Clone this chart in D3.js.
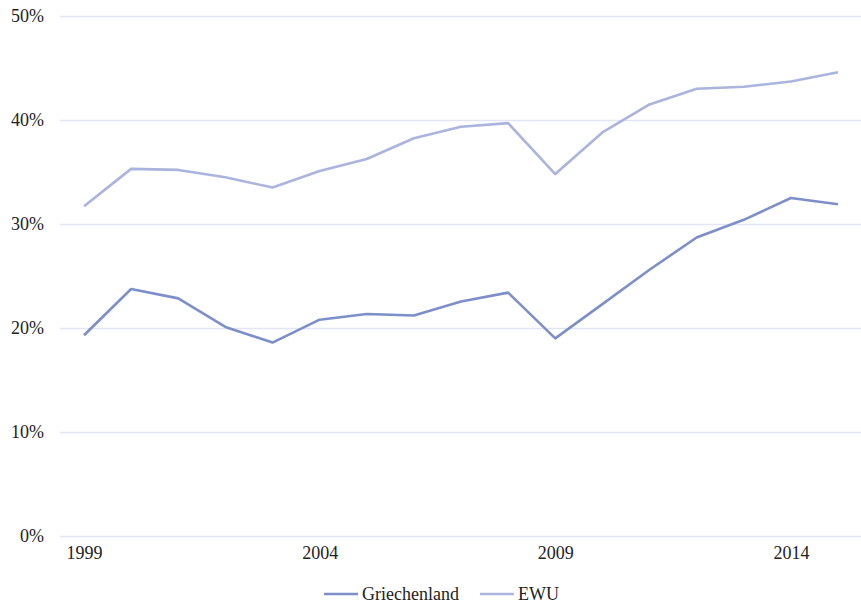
<!DOCTYPE html>
<html>
<head>
<meta charset="utf-8">
<script src="https://cdn.jsdelivr.net/npm/d3@7"></script>
<style>
  html, body { margin: 0; padding: 0; background: #fff; }
  svg { display: block; }
  text { font-family: "Liberation Serif", "Times New Roman", serif; fill: #222; }
</style>
</head>
<body>
<svg id="chart" width="861" height="605"></svg>
<script>
// Years and shares (percent)
const years = [1999, 2000, 2001, 2002, 2003, 2004, 2005, 2006, 2007, 2008,
               2009, 2010, 2011, 2012, 2013, 2014, 2015];
const griechenland = [19.3, 23.75, 22.85, 20.1, 18.6, 20.8, 21.35, 21.2, 22.55, 23.4,
                      19.0, 22.3, 25.6, 28.7, 30.4, 32.5, 31.9];
const ewu = [31.7, 35.3, 35.2, 34.5, 33.5, 35.1, 36.25, 38.25, 39.35, 39.7,
             34.8, 38.8, 41.5, 43.0, 43.2, 43.7, 44.6];
const yTicks = [0, 10, 20, 30, 40, 50];
const xTicks = [1999, 2004, 2009, 2014];
const seriesNames = ["Griechenland", "EWU"];
const seriesColors = ["#7d8fc9", "#aab4dc"];

const FONT = "'Liberation Serif', 'Times New Roman', serif";
const FONT_SIZE = "18px";

const svg = d3.select("#chart");
const gridLeft = 60, gridRight = 861;

const x = d3.scaleLinear().domain([1999, 2015]).range([84, 838]);
const y = d3.scaleLinear().domain([0, 50]).range([536, 16]);

// Horizontal grid lines with percent labels
const yAxis = d3.axisLeft(y)
  .tickValues(yTicks)
  .tickSize(-(gridRight - gridLeft))
  .tickPadding(16)
  .tickFormat(d => d + "%");

const gy = svg.append("g")
  .attr("transform", `translate(${gridLeft},0)`)
  .call(yAxis);
gy.select(".domain").remove();
gy.selectAll(".tick line").attr("stroke", "#e2e5f3").attr("stroke-width", 1.5);
gy.selectAll(".tick text")
  .attr("x", -16)
  .style("font-size", FONT_SIZE)
  .style("font-family", FONT)
  .attr("fill", "#222");

// Year labels
const xAxis = d3.axisBottom(x).tickValues(xTicks).tickSize(0).tickPadding(10).tickFormat(d3.format("d"));
const gx = svg.append("g").attr("transform", "translate(0,536)").call(xAxis);
gx.select(".domain").remove();
gx.selectAll(".tick text")
  .style("font-size", FONT_SIZE)
  .style("font-family", FONT)
  .attr("fill", "#222");

// Series lines (EWU below, Griechenland on top)
const line = d3.line().x((d, i) => x(years[i])).y(d => y(d));
[[ewu, seriesColors[1]], [griechenland, seriesColors[0]]].forEach(([vals, color]) => {
  svg.append("path")
    .datum(vals)
    .attr("fill", "none")
    .attr("stroke", color)
    .attr("stroke-width", 2.6)
    .attr("stroke-linejoin", "round")
    .attr("d", line);
});

// Legend
const legendY = 594;
let lx = 324;
seriesNames.forEach((name, i) => {
  svg.append("line")
    .attr("x1", lx).attr("x2", lx + 34)
    .attr("y1", legendY).attr("y2", legendY)
    .attr("stroke", seriesColors[i]).attr("stroke-width", 2.6);
  const t = svg.append("text")
    .attr("x", lx + 38).attr("y", legendY)
    .attr("dy", "0.35em")
    .style("font-size", FONT_SIZE)
    .style("font-family", FONT)
    .text(name);
  lx = lx + 38 + t.node().getComputedTextLength() + 21;
});
</script>
</body>
</html>
